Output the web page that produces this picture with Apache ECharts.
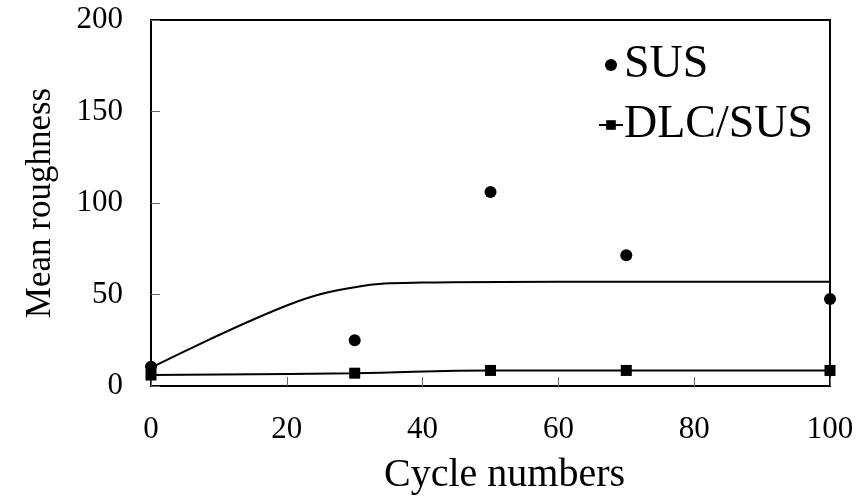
<!DOCTYPE html>
<html>
<head>
<meta charset="utf-8">
<script src="https://cdn.jsdelivr.net/npm/echarts@6/dist/echarts.min.js"></script>
<style>html,body{margin:0;padding:0;background:#fff}#c{width:859px;height:502px}</style>
</head>
<body>
<div id="c"></div>
<script>
var xTicks = [0, 20, 40, 60, 80, 100];
var yTicks = [0, 50, 100, 150, 200];
var cycles = [0, 30, 50, 70, 100];
var susValues = [10.5, 25, 106, 71.5, 47.5];
var dlcValues = [6, 7, 8.5, 8.5, 8.5];
var susTrendX = [0, 20, 30, 40, 60, 100];
var susTrendY = [10, 44, 54, 56.5, 57, 57];

var FONT = 'Liberation Serif';
function pairs(xs, ys) { return xs.map(function (x, i) { return [x, ys[i]]; }); }

var chart = echarts.init(document.getElementById('c'));
chart.setOption({
  animation: false,
  backgroundColor: '#fff',
  grid: { left: 151, right: 29, top: 20, bottom: 116, show: true, borderColor: '#000', borderWidth: 2 },
  legend: {
    orient: 'vertical', left: 593, top: 37, itemWidth: 24, itemHeight: 12, itemGap: 14,
    textStyle: { fontFamily: FONT, fontSize: 46, color: '#000', padding: [0, 0, 0, -4] },
    data: ['SUS', 'DLC/SUS']
  },
  xAxis: {
    type: 'value', min: xTicks[0], max: xTicks[xTicks.length - 1], interval: 20,
    name: 'Cycle numbers', nameLocation: 'middle', nameGap: 69,
    nameTextStyle: { fontFamily: FONT, fontSize: 40, color: '#000', padding: [0, 0, 0, 28] },
    axisLine: { lineStyle: { color: '#000', width: 2 } },
    axisTick: { inside: true, length: 9, lineStyle: { color: '#666', width: 1 } },
    axisLabel: { margin: 28, fontFamily: FONT, fontSize: 31, color: '#000' },
    splitLine: { show: false }
  },
  yAxis: {
    type: 'value', min: yTicks[0], max: yTicks[yTicks.length - 1], interval: 50,
    name: 'Mean roughness', nameLocation: 'middle', nameGap: 93,
    nameTextStyle: { fontFamily: FONT, fontSize: 35, color: '#000' },
    axisLine: { lineStyle: { color: '#000', width: 2 } },
    axisTick: { inside: true, length: 9, lineStyle: { color: '#666', width: 1 } },
    axisLabel: { margin: 28, fontFamily: FONT, fontSize: 31, color: '#000' },
    splitLine: { show: false }
  },
  series: [
    {
      name: 'SUS-trend', type: 'line', smooth: 0.4, symbol: 'none',
      data: pairs(susTrendX, susTrendY), lineStyle: { color: '#000', width: 2 }, z: 2
    },
    {
      name: 'DLC/SUS', type: 'line', smooth: 0.4, symbol: 'rect', symbolSize: 11,
      data: pairs(cycles, dlcValues), lineStyle: { color: '#000', width: 2 },
      itemStyle: { color: '#000', opacity: 1 }, z: 3
    },
    {
      name: 'SUS', type: 'scatter', symbol: 'circle', symbolSize: 12,
      data: pairs(cycles, susValues), itemStyle: { color: '#000', opacity: 1 }, z: 4
    }
  ]
});
</script>
</body>
</html>
